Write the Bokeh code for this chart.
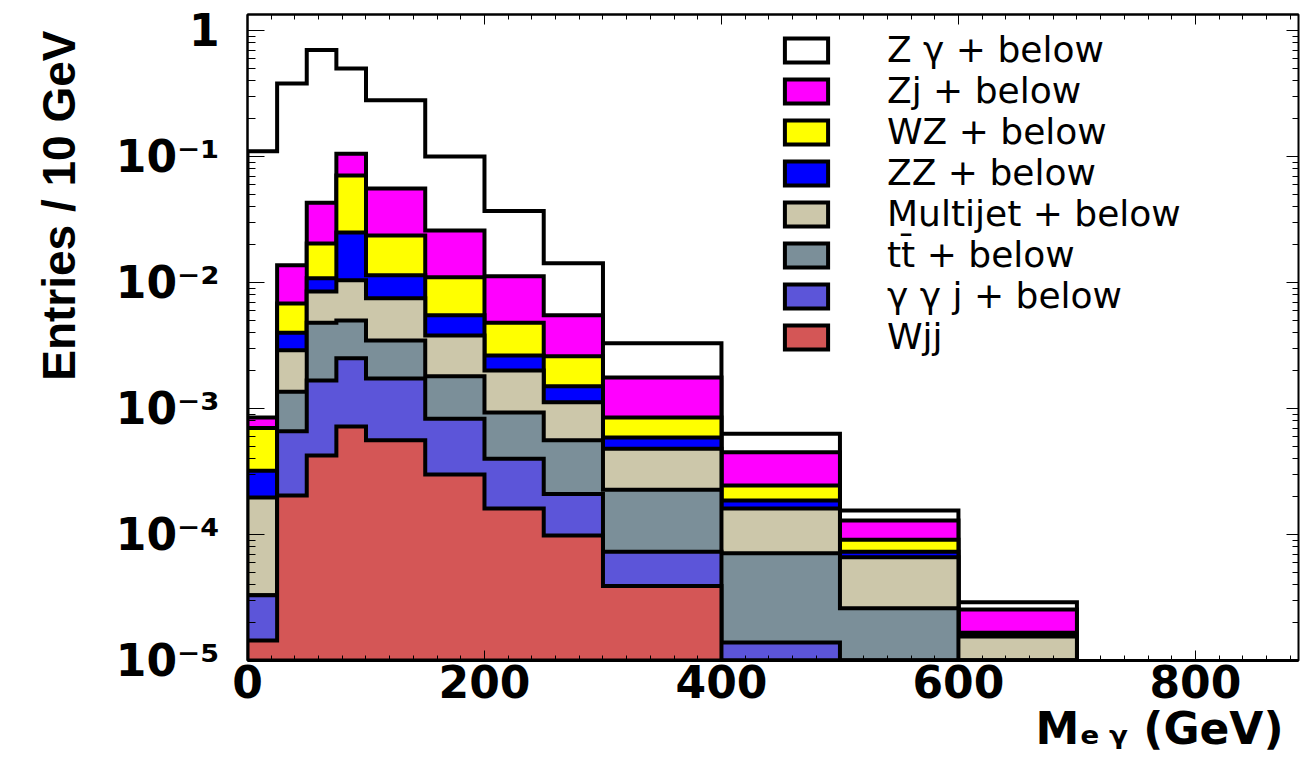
import math
from bokeh.plotting import figure
from bokeh.models import (Range1d, FixedTicker, LinearAxis, LogAxis, Legend,
                          LegendItem, CustomJSTickFormatter, Title)
from bokeh.embed import file_html
from bokeh.resources import INLINE

# ---------------- data (entries / 10 GeV, cumulative "+ below") ----------------
bin_edges = [0, 25, 50, 75, 100, 150, 200, 250, 300, 400, 500, 600, 700]

zgamma_sum   = [0.11, 0.38, 0.70, 0.50, 0.28, 0.10, 0.037, 0.0142, 3.3e-3, 6.3e-4, 1.55e-4, 2.9e-5]
zj_sum       = [8.5e-4, 0.0137, 0.043, 0.105, 0.0557, 0.0259, 0.0112, 5.5e-3, 1.76e-3, 4.5e-4, 1.29e-4, 2.54e-5]
wz_sum       = [7.0e-4, 6.8e-3, 0.0204, 0.0706, 0.0236, 0.011, 4.8e-3, 2.6e-3, 8.5e-4, 2.45e-4, 9.1e-5, 1.66e-5]
zz_sum       = [3.2e-4, 4.0e-3, 0.0108, 0.0249, 0.0114, 5.5e-3, 2.64e-3, 1.5e-3, 5.9e-4, 1.86e-4, 7.3e-5, 1.62e-5]
multijet_sum = [1.97e-4, 2.9e-3, 8.5e-3, 0.0104, 7.5e-3, 3.8e-3, 2.0e-3, 1.12e-3, 4.8e-4, 1.61e-4, 6.6e-5, 1.55e-5]
ttbar_sum    = [3.3e-5, 1.36e-3, 4.8e-3, 5.0e-3, 3.46e-3, 1.8e-3, 9.3e-4, 5.6e-4, 2.27e-4, 7.1e-5, 2.6e-5, 0]
ggj_sum      = [3.3e-5, 6.6e-4, 1.67e-3, 2.5e-3, 1.73e-3, 8.3e-4, 4.0e-4, 2.1e-4, 7.3e-5, 1.39e-5, 0, 0]
wjj          = [1.44e-5, 2.04e-4, 4.24e-4, 7.2e-4, 5.6e-4, 3.0e-4, 1.61e-4, 9.8e-5, 3.9e-5, 0, 0, 0]

series_labels = ["Z \u03b3 + below", "Zj + below", "WZ + below", "ZZ + below",
                 "Multijet + below", "tt\u0304 + below", "\u03b3 \u03b3 j + below", "Wjj"]
series_values = [zgamma_sum, zj_sum, wz_sum, zz_sum, multijet_sum, ttbar_sum, ggj_sum, wjj]
series_colors = ["#FFFFFF", "#FF00FF", "#FFFF00", "#0000FF",
                 "#CCC7AA", "#7B8F99", "#5C55D9", "#D45656"]

x_ticks = [0, 200, 400, 600, 800]
y_ticks = [1e-5, 1e-4, 1e-3, 1e-2, 1e-1, 1]
x_title = "M\u2091\u2009\u1d67 (GeV)"
y_title = "Entries / 10 GeV"

# ---------------- layout ----------------
W, H = 1300, 767
ML, MR, MT, MB = 247, 2, 14, 107
X0, X1 = 0, 887
Y0, Y1 = 1e-5, 1.34

p = figure(width=W, height=H, y_axis_type="log", output_backend="svg",
           toolbar_location=None, x_range=Range1d(X0, X1), y_range=Range1d(Y0, Y1),
           min_border_left=ML, min_border_right=MR, min_border_top=MT, min_border_bottom=MB)
p.xgrid.visible = False
p.ygrid.visible = False
p.outline_line_color = "black"
p.outline_line_width = 2
p.background_fill_color = "white"

# ---------------- stacked step histograms ----------------
renderers = []
for vals, col in zip(series_values, series_colors):
    xs = [bin_edges[0]]
    ys = [Y0]
    for i, v in enumerate(vals):
        h = v if v > Y0 else Y0
        xs += [bin_edges[i], bin_edges[i + 1]]
        ys += [h, h]
    xs.append(bin_edges[-1])
    ys.append(Y0)
    r = p.patch(xs, ys, fill_color=col, line_color="black", line_width=4,
                line_join="miter")
    renderers.append(r)

# ---------------- axes ----------------
minor_x = list(range(0, X1 + 1, 20))
minor_y = [m * 10.0 ** k for k in range(-5, 1) for m in range(2, 10)]

xa = p.xaxis[0]
xa.ticker = FixedTicker(ticks=x_ticks, minor_ticks=minor_x)
xa.major_label_text_font = "DejaVu Sans"
xa.major_label_text_font_style = "bold"
xa.major_label_text_font_size = "44px"
xa.major_label_text_color = "black"
xa.major_label_standoff = 4
xa.major_tick_in, xa.major_tick_out = 10, 0
xa.minor_tick_in, xa.minor_tick_out = 5, 0
xa.axis_line_width = 3

ya = p.yaxis[0]
ya.ticker = FixedTicker(ticks=y_ticks, minor_ticks=minor_y)
ya.formatter = CustomJSTickFormatter(code="""
const e = Math.round(Math.log10(tick));
if (e === 0) { return '1'; }
const sup = {'-': '\\u207b', '0': '\\u2070', '1': '\\u00b9', '2': '\\u00b2', '3': '\\u00b3',
             '4': '\\u2074', '5': '\\u2075', '6': '\\u2076'};
return '10' + String(e).split('').map(c => sup[c]).join('');
""")
ya.major_label_text_font = "DejaVu Sans"
ya.major_label_text_font_style = "bold"
ya.major_label_text_font_size = "44px"
ya.major_label_text_color = "black"
ya.major_label_standoff = 28
ya.major_tick_in, ya.major_tick_out = 17, 0
ya.minor_tick_in, ya.minor_tick_out = 8, 0
ya.axis_line_width = 2

blank = CustomJSTickFormatter(code="return '';")
top = LinearAxis(ticker=FixedTicker(ticks=x_ticks, minor_ticks=minor_x), formatter=blank,
                 major_tick_in=10, major_tick_out=0, minor_tick_in=5, minor_tick_out=0,
                 major_label_text_font_size="1px", major_label_standoff=0, axis_line_width=2)
p.add_layout(top, "above")
right = LogAxis(ticker=FixedTicker(ticks=y_ticks, minor_ticks=minor_y), formatter=blank,
                major_tick_in=12, major_tick_out=0, minor_tick_in=6, minor_tick_out=0,
                major_label_text_font_size="1px", major_label_standoff=0, axis_line_width=1)
p.add_layout(right, "right")

# axis titles (right-aligned like the ROOT original)
p.add_layout(Title(text=x_title, align="right", text_font="DejaVu Sans",
                   text_font_style="bold", text_font_size="44px", text_color="black",
                   standoff=0, offset=15), "below")
p.add_layout(Title(text=y_title, align="right", text_font="Liberation Sans",
                   text_font_style="bold", text_font_size="46px", text_color="black",
                   standoff=56, offset=16), "left")

# ---------------- legend ----------------
items = [LegendItem(label=lab, renderers=[r]) for lab, r in zip(series_labels, renderers)]
legend = Legend(items=items, location=(532, 303), glyph_width=54, glyph_height=30,
                label_standoff=54, spacing=0, padding=0, margin=0, label_height=41,
                label_text_font="DejaVu Sans", label_text_font_size="36px",
                label_text_color="black", background_fill_alpha=0, border_line_alpha=0)
p.add_layout(legend)

open("out.html", "w").write(file_html(p, INLINE))
